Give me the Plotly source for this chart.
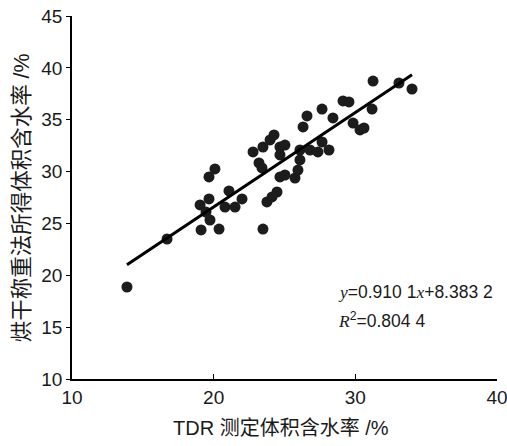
import plotly.graph_objects as go

tdr = [13.88, 16.71, 19.04, 19.11, 19.46, 19.67, 19.67, 19.74, 20.09, 20.38,
       20.80, 21.08, 21.51, 22.00, 22.78, 23.20, 23.41, 23.48, 23.48, 23.76,
       24.12, 24.47, 23.98, 24.26, 24.68, 25.03, 24.68, 24.68, 25.03, 25.74,
       25.95, 26.09, 26.09, 26.31, 26.59, 26.80, 27.36, 27.65, 27.65, 28.14,
       28.42, 29.13, 29.55, 29.84, 30.33, 30.61, 31.18, 31.25, 33.08, 34.00]
oven = [18.87, 23.50, 26.78, 24.37, 26.10, 29.48, 27.36, 25.33, 30.25, 24.46,
        26.58, 28.13, 26.58, 27.36, 31.89, 30.83, 30.35, 32.37, 24.46, 27.07,
        27.55, 28.03, 33.05, 33.53, 32.37, 32.56, 31.60, 29.48, 29.67, 29.38,
        30.15, 31.12, 32.08, 34.30, 35.36, 32.08, 31.89, 36.03, 32.85, 32.08,
        35.17, 36.81, 36.71, 34.68, 34.01, 34.20, 36.03, 38.73, 38.54, 37.96]

slope = 0.9101
intercept = 8.3832
fit_x = [min(tdr), max(tdr)]
fit_y = [slope * v + intercept for v in fit_x]

x_ticks = [10, 20, 30, 40]
y_ticks = [10, 15, 20, 25, 30, 35, 40, 45]

x_title = "TDR 测定体积含水率 /%"
y_title = "烘干称重法所得体积含水率 /%"

sans = "Liberation Sans, Arial, Noto Sans CJK SC, sans-serif"
serif = "Liberation Serif, Times New Roman, serif"
ink = "#1a1a1a"

fig = go.Figure()
fig.add_trace(go.Scatter(x=tdr, y=oven, mode="markers",
                         marker=dict(size=11, color="#1c1c1c"),
                         showlegend=False))
fig.add_trace(go.Scatter(x=fit_x, y=fit_y, mode="lines",
                         line=dict(color="black", width=3),
                         showlegend=False))

fig.add_annotation(xref="paper", yref="paper", x=0.62, y=0.240,
                   xanchor="left", yanchor="middle", showarrow=False,
                   text=f"<span style='font-family:{serif}'><i>y</i></span>=0.910 1"
                        f"<span style='font-family:{serif}'><i>x</i></span>+8.383 2",
                   font=dict(size=17.5, color=ink, family=sans))
fig.add_annotation(xref="paper", yref="paper", x=0.62, y=0.163,
                   xanchor="left", yanchor="middle", showarrow=False,
                   text=f"<span style='font-family:{serif}'><i>R</i></span><sup>2</sup>=0.804 4",
                   font=dict(size=17.5, color=ink, family=sans))

# axis titles
fig.add_annotation(xref="paper", yref="paper", x=0.492, y=-0.135,
                   xanchor="center", yanchor="middle", showarrow=False,
                   text=x_title, font=dict(size=20, color=ink, family=sans))
fig.add_annotation(xref="paper", yref="paper", x=-0.118, y=0.5,
                   xanchor="center", yanchor="middle", showarrow=False, textangle=-90,
                   text=y_title, font=dict(size=21.5, color=ink, family=sans))

fig.update_layout(
    width=507, height=446,
    margin=dict(l=72, r=10, t=16, b=67, autoexpand=False),
    paper_bgcolor="white", plot_bgcolor="white",
    font=dict(family=sans, size=19, color=ink),
    xaxis=dict(range=[10, 40], tickvals=x_ticks, ticks="inside", ticklen=5,
               tickcolor="black", tickwidth=1.3, showline=True, linecolor="black", linewidth=1.5,
               showgrid=False, zeroline=False, automargin=False, ticklabeloverflow="allow",
               tickfont=dict(size=19, color=ink)),
    yaxis=dict(range=[10, 45], tickvals=y_ticks, ticks="outside", ticklen=4,
               tickcolor="black", tickwidth=1.3, showline=True, linecolor="black", linewidth=1.5,
               showgrid=False, zeroline=False, automargin=False, ticklabeloverflow="allow",
               tickfont=dict(size=19, color=ink)),
)

fig.write_html("out.html",
               config={"displayModeBar": False},
               post_script="document.body.style.margin='0';document.body.style.overflow='hidden';")
